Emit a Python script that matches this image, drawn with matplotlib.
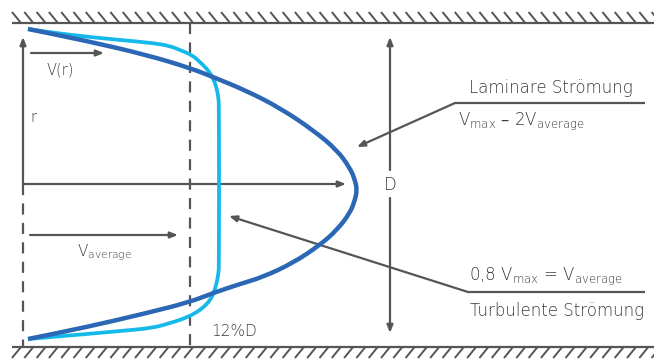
import numpy as np
import matplotlib
matplotlib.use("Agg")
import matplotlib.pyplot as plt
from matplotlib.collections import LineCollection
from matplotlib.path import Path
from matplotlib.patches import PathPatch

plt.rcParams['font.family'] = ['DejaVu Sans']
plt.rcParams['mathtext.default'] = 'regular'
plt.rcParams['lines.scale_dashes'] = False

# ---- data (pixel coordinates) ----
laminar_x = [28, 87, 147, 190, 213, 247, 280, 313, 337, 350, 355, 357,
             355, 350, 337, 320, 293, 263, 240, 213, 190, 147, 87, 28]
laminar_y = [29, 41, 55, 68, 77, 91, 108, 130, 150, 168, 180, 190,
             200, 213, 230, 245, 263, 277, 284, 293, 302, 313, 327, 339]

turbulent_x = [28, 70, 120, 153, 170, 180, 192, 200, 207, 212, 215, 217, 218.5, 219,
               219, 218.5, 217, 215, 212, 207, 200, 192, 180, 170, 153, 120, 87, 28]
turbulent_y = [29, 35, 40, 43, 46, 50, 55, 62, 69, 76, 83, 90, 98, 108,
               265, 273, 281, 289, 297, 304, 310, 315, 320, 323, 328, 331, 334, 339]

label_laminar = "Laminare Strömung"
label_laminar_eq = r"V$_{max}$ – 2V$_{average}$"
label_turb_eq = r"0,8 V$_{max}$ = V$_{average}$"
label_turbulent = "Turbulente Strömung"
label_vr = "V(r)"
label_r = "r"
label_vavg = r"V$_{average}$"
label_D = "D"
label_12 = "12%D"

GRAY = '#555555'
DARK = '#2b67b5'
CYAN = '#14b9ec'
TXT = '#3a3a3a'

fig = plt.figure(figsize=(6.54, 3.59), dpi=100)
ax = fig.add_axes([0, 0, 1, 1])
ax.set_xlim(0, 654)
ax.set_ylim(359, 0)
ax.axis('off')


def smooth_curve(xs, ys, color, lw, z):
    """Quadratic Bezier chain through midpoints, read points as controls."""
    pts = np.column_stack([xs, ys]).astype(float)
    verts = [pts[0], (pts[0] + pts[1]) / 2]
    codes = [Path.MOVETO, Path.LINETO]
    for i in range(1, len(pts) - 1):
        verts += [pts[i], (pts[i] + pts[i + 1]) / 2]
        codes += [Path.CURVE3, Path.CURVE3]
    verts.append(pts[-1])
    codes.append(Path.LINETO)
    ax.add_patch(PathPatch(Path(verts, codes), fill=False, edgecolor=color,
                           lw=lw, capstyle='butt', joinstyle='round', zorder=z))


# walls
wall_top, wall_bot = 23, 347
ax.plot([12, 654], [wall_top, wall_top], color=GRAY, lw=1.6, solid_capstyle='butt')
ax.plot([12, 654], [wall_bot, wall_bot], color=GRAY, lw=1.6, solid_capstyle='butt')
hx = np.arange(12, 654, 12.3)
segs_top = [[(x, 12), (x + 9, wall_top)] for x in hx]
segs_bot = [[(x, 358), (x + 9, wall_bot)] for x in hx]
ax.add_collection(LineCollection(segs_top, colors=GRAY, linewidths=1.4))
ax.add_collection(LineCollection(segs_bot, colors=GRAY, linewidths=1.4))

dash = (0, (8, 6))
ax.plot([190, 190], [wall_top, wall_bot], color=GRAY, lw=1.6, linestyle=dash)
ax.plot([23, 23], [184, wall_bot], color=GRAY, lw=1.6, linestyle=dash)

def arrow(x0, y0, x1, y1):
    ax.annotate('', xy=(x1, y1), xytext=(x0, y0),
                arrowprops=dict(arrowstyle='-|>,head_length=0.45,head_width=0.18',
                                color=GRAY, lw=1.6, shrinkA=0, shrinkB=0))

def line(x0, y0, x1, y1):
    ax.plot([x0, x1], [y0, y1], color=GRAY, lw=1.6, solid_capstyle='butt')

arrow(23, 185, 23, 37)
arrow(23, 184, 346, 184)
arrow(31, 53, 104, 53)
arrow(30, 235, 178, 235)
arrow(390, 170, 390, 37)
arrow(390, 198, 390, 333)

smooth_curve(turbulent_x, turbulent_y, CYAN, 2.7, 3)
smooth_curve(laminar_x, laminar_y, DARK, 3.2, 4)

arrow(455, 103, 357, 147)
line(455, 103, 645, 103)
arrow(468, 292, 229, 216)
line(468, 292, 645, 292)

kw = dict(color=TXT, fontweight='light')
ax.text(551, 88, label_laminar, fontsize=12, ha='center', va='center', **kw)
ax.text(458, 121, label_laminar_eq, fontsize=12, ha='left', va='center', **kw)
ax.text(469, 276, label_turb_eq, fontsize=12, ha='left', va='center', **kw)
ax.text(557, 311, label_turbulent, fontsize=12, ha='center', va='center', **kw)
ax.text(60, 70, label_vr, fontsize=10.5, ha='center', va='center', **kw)
ax.text(33, 117, label_r, fontsize=10.5, ha='center', va='center', **kw)
ax.text(77, 253, label_vavg, fontsize=11, ha='left', va='center', **kw)
ax.text(390, 185, label_D, fontsize=12, ha='center', va='center', **kw)
ax.text(234, 331, label_12, fontsize=11, ha='center', va='center', **kw)

fig.savefig('out.png', dpi=100)
